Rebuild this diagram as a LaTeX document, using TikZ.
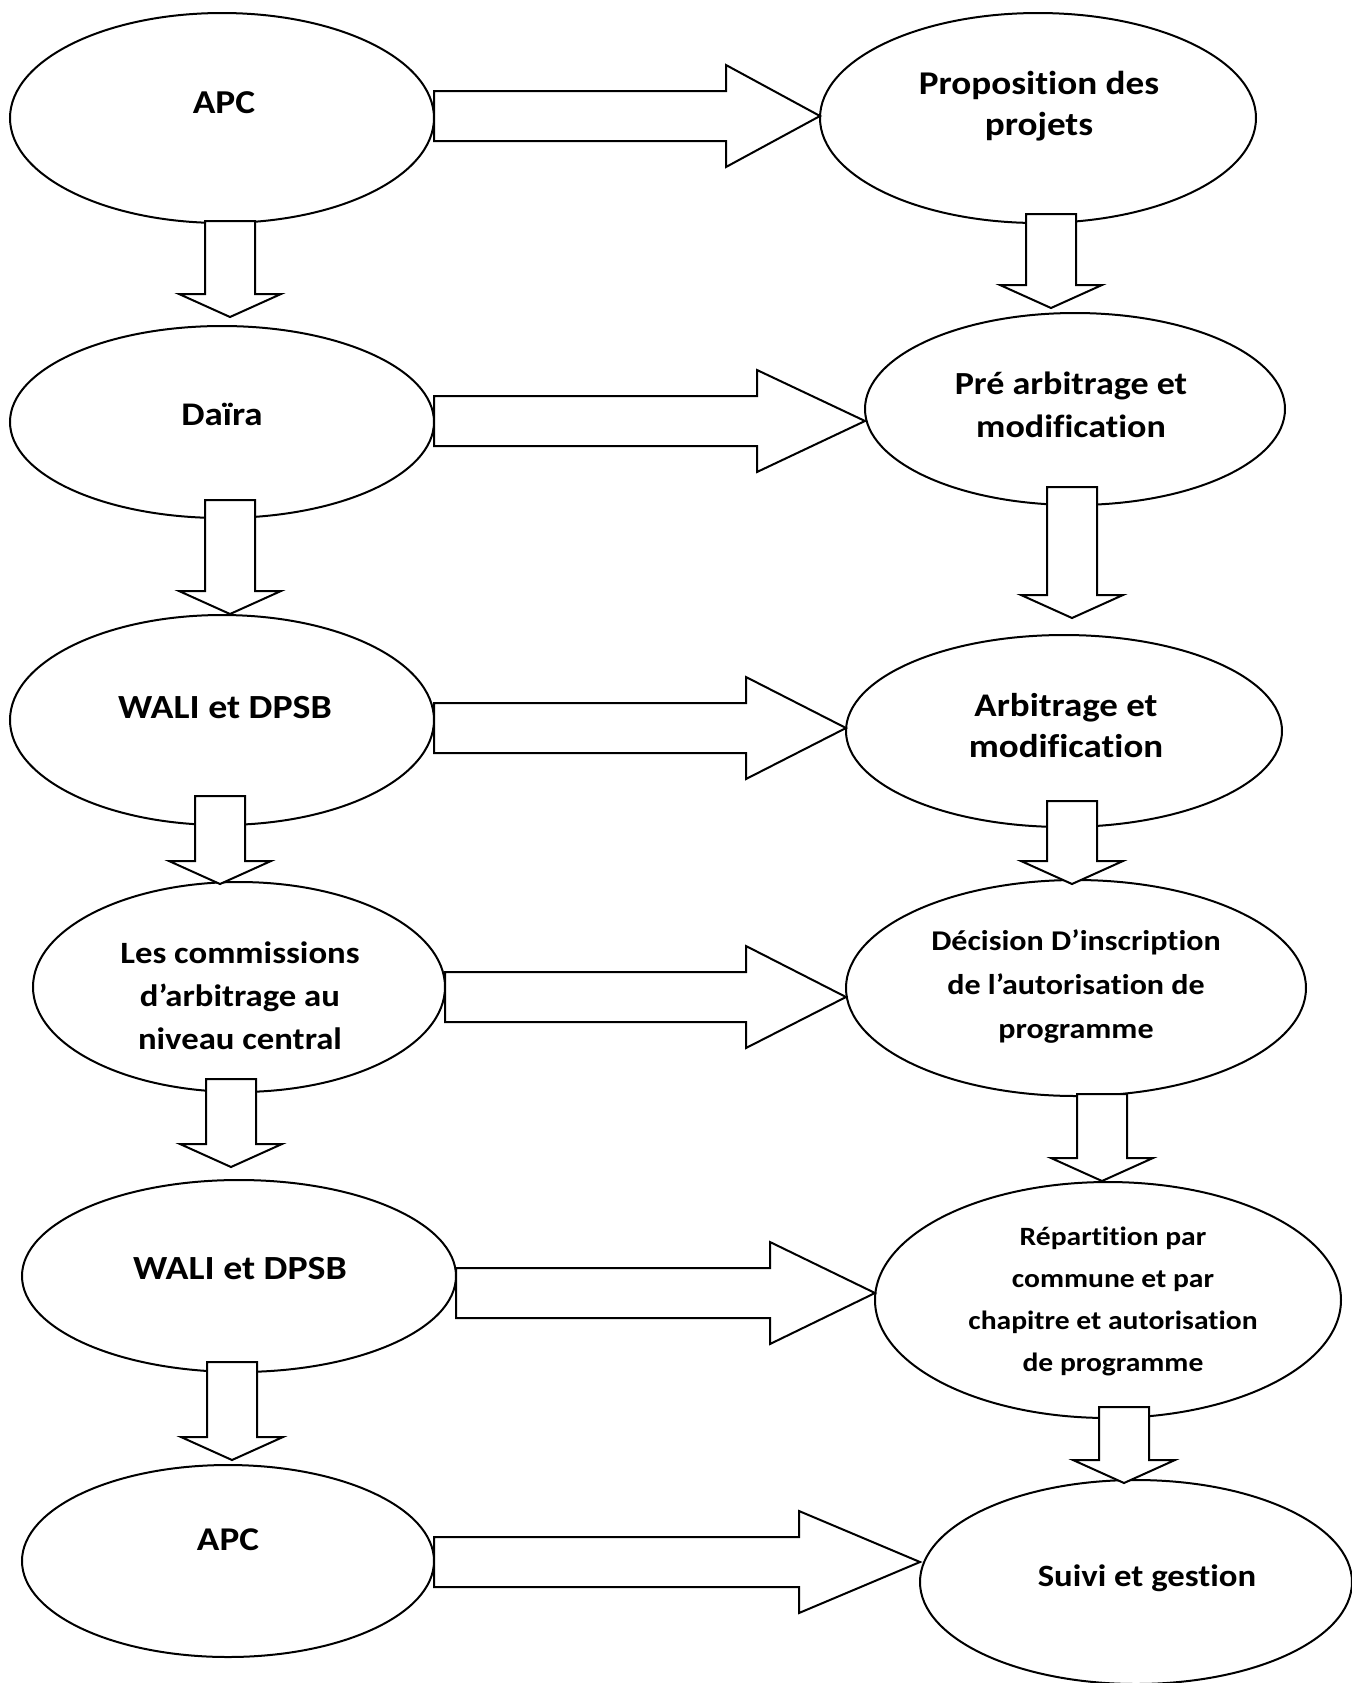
\documentclass[tikz,border=0pt]{standalone}
\usepackage{fontspec}
\setmainfont{Carlito}[Ligatures = NoCommon, FakeStretch = 1.12]
\usetikzlibrary{shapes.geometric, calc}

% block arrows: from node, to node, axis shift, head length
\newcommand{\rightblock}[4]{%
	\draw [blockarrow] ($(#1.east) + (0, #3 - 25)$) -- ($(#1.east -| #2.west) + (-#4, #3 - 25)$) -- ++ (0, -26) -- ++ (#4, 51) -- ++ (-#4, 51) -- ++ (0, -26) -- ($(#1.east) + (0, #3 + 25)$) -- cycle;%
}
% from node, to node, x shift, rise into source, gap before target
\newcommand{\downblock}[5]{%
	\draw [blockarrow] ($(#1.south) + (#3 - 25, -#4)$) -- ($(#2.north -| #1.south) + (#3 - 25, {-23 - (#5)})$) -- ++ (-26, 0) -- ++ (51, 23) -- ++ (51, -23) -- ++ (-26, 0) -- ($(#1.south) + (#3 + 25, -#4)$) -- cycle;%
}

\begin{document}
\begin{tikzpicture}[x = 0.5pt, y = -0.5pt,
	bubble/.style = {ellipse, draw, line width = 1pt, inner sep = 0pt, outer sep = 0pt},
	blockarrow/.style = {draw, fill = white, line width = 1pt, line join = miter},
	txt/.style = {align = center, inner sep = 0pt, font = \bfseries\fontsize{#1}{21}\selectfont},
	txt/.default = 16]

	\fill [white] (0, 0) rectangle (1351, 1683);
	\useasboundingbox (0, 0) rectangle (1351, 1683);

	% Left column
	
	\node [bubble, minimum width = 212pt, minimum height = 105pt] (apc1) at (222, 118) {};
	\node [bubble, minimum width = 212pt, minimum height = 96pt] (daira) at (222, 422) {};
	\node [bubble, minimum width = 212pt, minimum height = 105pt] (wali1) at (222, 720) {};
	\node [bubble, minimum width = 206pt, minimum height = 105pt] (comm) at (239, 987) {};
	\node [bubble, minimum width = 217pt, minimum height = 96pt] (wali2) at (239, 1276) {};
	\node [bubble, minimum width = 206pt, minimum height = 96pt] (apc2) at (228, 1561) {};
	
	% Right column
	
	\node [bubble, minimum width = 218pt, minimum height = 105pt] (prop) at (1038, 118) {};
	\node [bubble, minimum width = 210pt, minimum height = 96pt] (prearb) at (1075, 409) {};
	\node [bubble, minimum width = 218pt, minimum height = 96pt] (arb) at (1064, 731) {};
	\node [bubble, minimum width = 230pt, minimum height = 108pt] (decision) at (1076, 988) {};
	\node [bubble, minimum width = 233pt, minimum height = 118pt] (repart) at (1108, 1300) {};
	\node [bubble, minimum width = 216pt, minimum height = 102pt] (suivi) at (1136, 1582) {};
	
	% Labels
	
	\node [txt = 16.7] (apc1t) at (224, 103) {APC};
	\node [txt = 16.5] (dairat) at (222, 414) {Daïra};
	\node [txt = 16.9] (wali1t) at (225, 708) {WALI et DPSB};
	\node [txt, font = \bfseries\fontsize{15.5}{21.5}\selectfont] (commt) at (240, 996) {Les commissions\\d’arbitrage au\\niveau central};
	\node [txt = 16.9] (wali2t) at (240, 1269) {WALI et DPSB};
	\node [txt = 16.6] (apc2t) at (228, 1540) {APC};
	
	\node [txt, font = \bfseries\fontsize{16.6}{20.5}\selectfont] (propt) at (1039, 106) {Proposition des\\projets};
	\node [txt, font = \bfseries\fontsize{16.1}{21.5}\selectfont] (prearbt) at (1071, 405) {Pré arbitrage et\\modification};
	\node [txt, font = \bfseries\fontsize{16.5}{20.5}\selectfont] (arbt) at (1066, 726) {Arbitrage et\\modification};
	\node [txt, font = \bfseries\fontsize{14.3}{22}\selectfont] (decisiont) at (1076, 987) {Décision D’inscription\\de l’autorisation de\\programme};
	\node [txt, font = \bfseries\fontsize{13.2}{21}\selectfont] (repartt) at (1113, 1301) {Répartition par\\commune et par\\chapitre et autorisation\\de programme};
	\node [txt = 15.5] (suivit) at (1147, 1578) {Suivi et gestion};
	
	% Arrows across
	
	\rightblock{apc1}{prop}{-2}{94}
	\rightblock{daira}{prearb}{-1}{108}
	\rightblock{wali1}{arb}{8}{100}
	\rightblock{comm}{decision}{10}{100}
	\rightblock{wali2}{repart}{17}{105}
	\rightblock{apc2}{suivi}{1}{121}
	
	% Arrows down
	
	\downblock{apc1}{daira}{8}{2}{9}
	\downblock{daira}{wali1}{8}{18}{1}
	\downblock{wali1}{comm}{-2}{29}{-2}
	\downblock{comm}{wali2}{-8}{13}{13}
	\downblock{wali2}{apc2}{-7}{10}{5}
	
	\downblock{prop}{prearb}{13}{9}{5}
	\downblock{prearb}{arb}{-3}{18}{17}
	\downblock{arb}{decision}{8}{26}{-4}
	\downblock{decision}{repart}{26}{2}{1}
	\downblock{repart}{suivi}{16}{11}{-3}
	
\end{tikzpicture}
\end{document}
